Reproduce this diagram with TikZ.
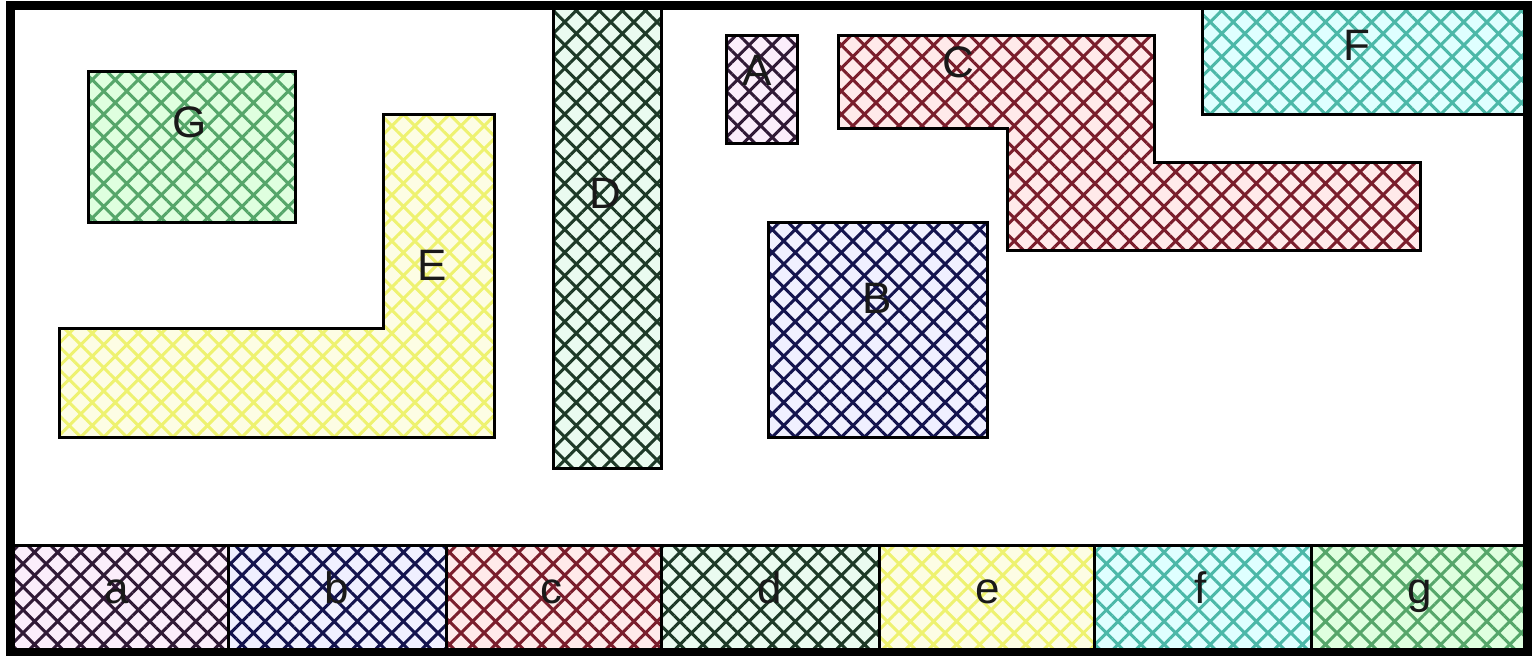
\documentclass[tikz,border=0pt]{standalone}
\usepackage{fontspec}
\setmainfont{Liberation Sans}
\usetikzlibrary{patterns.meta}
\definecolor{lnA}{HTML}{301A36}\definecolor{bgA}{HTML}{FBEEFB}
\definecolor{lnB}{HTML}{14144E}\definecolor{bgB}{HTML}{F0F0FF}
\definecolor{lnC}{HTML}{7A1E2C}\definecolor{bgC}{HTML}{FFEAEA}
\definecolor{lnD}{HTML}{1E3A28}\definecolor{bgD}{HTML}{EAFBF0}
\definecolor{lnE}{HTML}{EEF270}\definecolor{bgE}{HTML}{FDFDE4}
\definecolor{lnF}{HTML}{4CB8A8}\definecolor{bgF}{HTML}{DFFFFF}
\definecolor{lnG}{HTML}{56A66A}\definecolor{bgG}{HTML}{DFFFDF}
\tikzset{
  x=1pt, y=-1pt,
  shp/.style={draw=black, line width=3pt, line join=miter},
  hat/.style 2 args={preaction={fill=#2},
     pattern={Hatch[angle=45,distance=16.3pt,line width=3pt]}, pattern color=#1},
  lbl/.style={font=\fontsize{44}{50}\selectfont, text=black!90, inner sep=0pt},
}
\begin{document}
\begin{tikzpicture}
\useasboundingbox (0,0) rectangle (1532,656);
\fill[white] (0,0) rectangle (1532,656);
% top region shapes
\path[shp, hat={lnG}{bgG}] (88,71) rectangle (295,222);
\path[shp, hat={lnE}{bgE}] (383,114) -- (494,114) -- (494,437) -- (59,437) -- (59,328) -- (383,328) -- cycle;
\path[shp, hat={lnD}{bgD}] (553,6) rectangle (661,468);
\path[shp, hat={lnA}{bgA}] (726,35) rectangle (797,143);
\path[shp, hat={lnC}{bgC}] (838,35) -- (1154,35) -- (1154,162) -- (1420,162) -- (1420,250) -- (1007,250) -- (1007,128) -- (838,128) -- cycle;
\path[shp, hat={lnF}{bgF}] (1202,6) rectangle (1527,114);
\path[shp, hat={lnB}{bgB}] (768,222) rectangle (987,437);
% bottom strip
\path[shp, hat={lnA}{bgA}] (10,545) rectangle (228,653);
\path[shp, hat={lnB}{bgB}] (228,545) rectangle (446,653);
\path[shp, hat={lnC}{bgC}] (446,545) rectangle (661,653);
\path[shp, hat={lnD}{bgD}] (661,545) rectangle (879,653);
\path[shp, hat={lnE}{bgE}] (879,545) rectangle (1094,653);
\path[shp, hat={lnF}{bgF}] (1094,545) rectangle (1311,653);
\path[shp, hat={lnG}{bgG}] (1311,545) rectangle (1527,653);
% frame
\draw[line width=9pt, line join=miter] (10,5) rectangle (1527,652);
% labels
\node[lbl] (lG) at (190,122) {G};
\node[lbl] (lE) at (432,265) {E};
\node[lbl] (lD) at (605,193) {D};
\node[lbl] (lA) at (757,70) {A};
\node[lbl] (lC) at (958,62) {C};
\node[lbl] (lF) at (1357,45) {F};
\node[lbl] (lB) at (877,298) {B};
\node[lbl, anchor=base] (la) at (117,603) {a};
\node[lbl, anchor=base] (lb) at (337,603) {b};
\node[lbl, anchor=base] (lc) at (551,603) {c};
\node[lbl, anchor=base] (ld) at (770,603) {d};
\node[lbl, anchor=base] (le) at (988,603) {e};
\node[lbl, anchor=base] (lf) at (1201,603) {f};
\node[lbl, anchor=base] (lg) at (1420,603) {g};
\end{tikzpicture}
\end{document}
